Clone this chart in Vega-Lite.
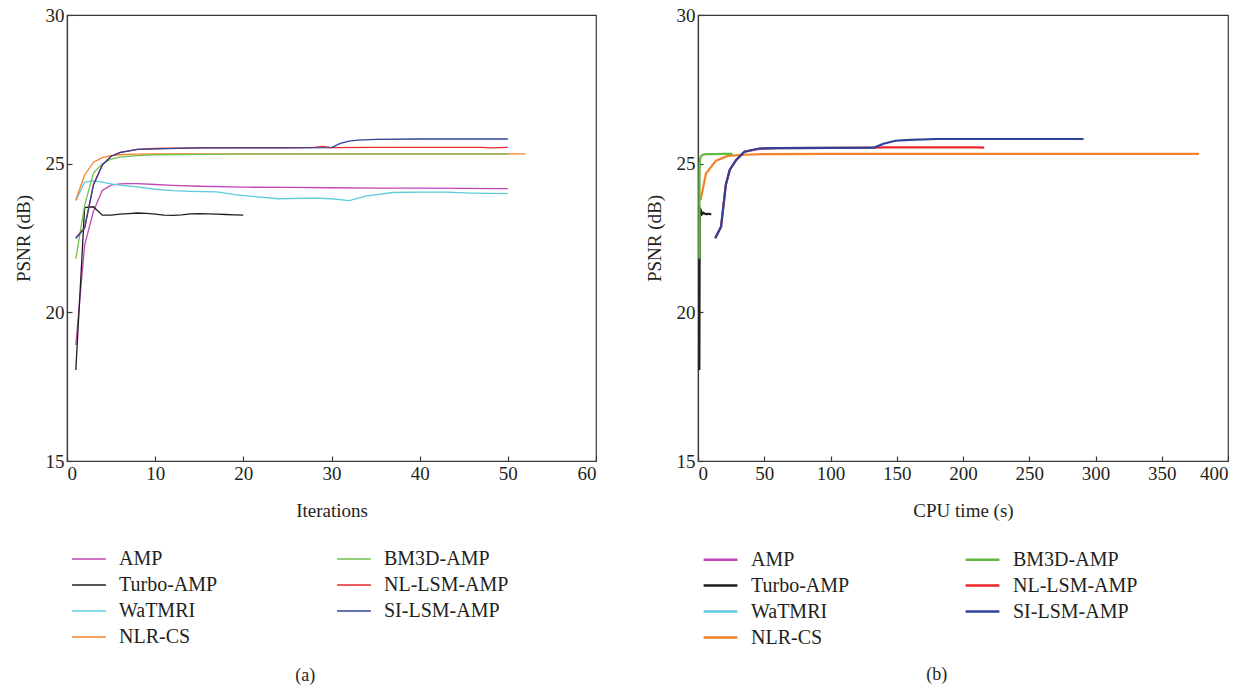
{
  "$schema": "https://vega.github.io/schema/vega-lite/v6.json",
  "background": "white",
  "padding": {"left": 13, "top": 5, "right": 5, "bottom": 5},
  "spacing": 102,
  "bounds": "flush",
  "config": {
    "font": "Liberation Serif",
    "view": {"stroke": "#3a3a3a", "strokeWidth": 1.2},
    "axis": {
      "grid": false,
      "labelFont": "Liberation Serif",
      "titleFont": "Liberation Serif",
      "labelFontSize": 19,
      "titleFontSize": 19,
      "titleFontWeight": "normal",
      "labelColor": "#231f20",
      "titleColor": "#231f20",
      "domainColor": "#3a3a3a",
      "domainWidth": 1.2,
      "tickColor": "#3a3a3a",
      "tickWidth": 1.2,
      "tickSize": -5,
      "labelPadding": 8
    },
    "legend": {
      "labelFont": "Liberation Serif",
      "labelFontSize": 20,
      "labelColor": "#231f20",
      "symbolType": "M-1.3,0L1.3,0",
      "symbolSize": 676,
      "labelOffset": 16,
      "columns": 2,
      "columnPadding": 116,
      "rowPadding": 2,
      "padding": 0,
      "title": null,
      "orient": "none"
    },
    "title": {"font": "Liberation Serif", "fontSize": 18, "fontWeight": "normal", "color": "#231f20"}
  },
  "datasets": {
    "iter": [
      {"method": "AMP", "x": 1, "y": 18.9}, {"method": "AMP", "x": 2, "y": 22.26}, {"method": "AMP", "x": 3, "y": 23.4}, {"method": "AMP", "x": 4, "y": 24.1}, {"method": "AMP", "x": 5, "y": 24.28}, {"method": "AMP", "x": 6, "y": 24.32}, {"method": "AMP", "x": 7, "y": 24.33}, {"method": "AMP", "x": 8, "y": 24.33}, {"method": "AMP", "x": 10, "y": 24.3}, {"method": "AMP", "x": 12, "y": 24.27}, {"method": "AMP", "x": 15, "y": 24.24}, {"method": "AMP", "x": 20, "y": 24.21}, {"method": "AMP", "x": 25, "y": 24.2}, {"method": "AMP", "x": 30, "y": 24.19}, {"method": "AMP", "x": 35, "y": 24.18}, {"method": "AMP", "x": 40, "y": 24.18}, {"method": "AMP", "x": 45, "y": 24.17}, {"method": "AMP", "x": 48, "y": 24.16}, {"method": "AMP", "x": 50, "y": 24.16},
      {"method": "Turbo-AMP", "x": 1, "y": 18.06}, {"method": "Turbo-AMP", "x": 2, "y": 23.52}, {"method": "Turbo-AMP", "x": 3, "y": 23.55}, {"method": "Turbo-AMP", "x": 4, "y": 23.27}, {"method": "Turbo-AMP", "x": 5, "y": 23.27}, {"method": "Turbo-AMP", "x": 6, "y": 23.3}, {"method": "Turbo-AMP", "x": 7, "y": 23.32}, {"method": "Turbo-AMP", "x": 8, "y": 23.34}, {"method": "Turbo-AMP", "x": 9, "y": 23.33}, {"method": "Turbo-AMP", "x": 10, "y": 23.3}, {"method": "Turbo-AMP", "x": 11, "y": 23.27}, {"method": "Turbo-AMP", "x": 12, "y": 23.26}, {"method": "Turbo-AMP", "x": 13, "y": 23.28}, {"method": "Turbo-AMP", "x": 14, "y": 23.31}, {"method": "Turbo-AMP", "x": 15, "y": 23.32}, {"method": "Turbo-AMP", "x": 16, "y": 23.31}, {"method": "Turbo-AMP", "x": 17, "y": 23.3}, {"method": "Turbo-AMP", "x": 18, "y": 23.29}, {"method": "Turbo-AMP", "x": 19, "y": 23.28}, {"method": "Turbo-AMP", "x": 20, "y": 23.27},
      {"method": "WaTMRI", "x": 1, "y": 23.75}, {"method": "WaTMRI", "x": 2, "y": 24.38}, {"method": "WaTMRI", "x": 3, "y": 24.42}, {"method": "WaTMRI", "x": 4, "y": 24.38}, {"method": "WaTMRI", "x": 5, "y": 24.32}, {"method": "WaTMRI", "x": 6, "y": 24.28}, {"method": "WaTMRI", "x": 8, "y": 24.22}, {"method": "WaTMRI", "x": 10, "y": 24.14}, {"method": "WaTMRI", "x": 12, "y": 24.09}, {"method": "WaTMRI", "x": 14, "y": 24.07}, {"method": "WaTMRI", "x": 17, "y": 24.05}, {"method": "WaTMRI", "x": 19, "y": 23.96}, {"method": "WaTMRI", "x": 21, "y": 23.9}, {"method": "WaTMRI", "x": 24, "y": 23.82}, {"method": "WaTMRI", "x": 28, "y": 23.84}, {"method": "WaTMRI", "x": 30, "y": 23.82}, {"method": "WaTMRI", "x": 32, "y": 23.76}, {"method": "WaTMRI", "x": 34, "y": 23.92}, {"method": "WaTMRI", "x": 37, "y": 24.03}, {"method": "WaTMRI", "x": 40, "y": 24.04}, {"method": "WaTMRI", "x": 43, "y": 24.04}, {"method": "WaTMRI", "x": 46, "y": 24.01}, {"method": "WaTMRI", "x": 50, "y": 23.99},
      {"method": "NLR-CS", "x": 1, "y": 23.78}, {"method": "NLR-CS", "x": 2, "y": 24.62}, {"method": "NLR-CS", "x": 3, "y": 25.05}, {"method": "NLR-CS", "x": 4, "y": 25.2}, {"method": "NLR-CS", "x": 5, "y": 25.27}, {"method": "NLR-CS", "x": 6, "y": 25.3}, {"method": "NLR-CS", "x": 8, "y": 25.32}, {"method": "NLR-CS", "x": 10, "y": 25.33}, {"method": "NLR-CS", "x": 20, "y": 25.33}, {"method": "NLR-CS", "x": 30, "y": 25.33}, {"method": "NLR-CS", "x": 40, "y": 25.33}, {"method": "NLR-CS", "x": 52, "y": 25.33},
      {"method": "BM3D-AMP", "x": 1, "y": 21.8}, {"method": "BM3D-AMP", "x": 2, "y": 23.6}, {"method": "BM3D-AMP", "x": 3, "y": 24.68}, {"method": "BM3D-AMP", "x": 4, "y": 25.0}, {"method": "BM3D-AMP", "x": 5, "y": 25.15}, {"method": "BM3D-AMP", "x": 6, "y": 25.22}, {"method": "BM3D-AMP", "x": 8, "y": 25.27}, {"method": "BM3D-AMP", "x": 10, "y": 25.3}, {"method": "BM3D-AMP", "x": 15, "y": 25.31}, {"method": "BM3D-AMP", "x": 20, "y": 25.32}, {"method": "BM3D-AMP", "x": 30, "y": 25.32}, {"method": "BM3D-AMP", "x": 40, "y": 25.32}, {"method": "BM3D-AMP", "x": 50, "y": 25.32},
      {"method": "NL-LSM-AMP", "x": 1, "y": 22.5}, {"method": "NL-LSM-AMP", "x": 2, "y": 22.85}, {"method": "NL-LSM-AMP", "x": 3, "y": 24.3}, {"method": "NL-LSM-AMP", "x": 4, "y": 24.95}, {"method": "NL-LSM-AMP", "x": 5, "y": 25.25}, {"method": "NL-LSM-AMP", "x": 6, "y": 25.38}, {"method": "NL-LSM-AMP", "x": 8, "y": 25.48}, {"method": "NL-LSM-AMP", "x": 10, "y": 25.51}, {"method": "NL-LSM-AMP", "x": 15, "y": 25.53}, {"method": "NL-LSM-AMP", "x": 20, "y": 25.54}, {"method": "NL-LSM-AMP", "x": 25, "y": 25.54}, {"method": "NL-LSM-AMP", "x": 28, "y": 25.55}, {"method": "NL-LSM-AMP", "x": 29, "y": 25.58}, {"method": "NL-LSM-AMP", "x": 30, "y": 25.54}, {"method": "NL-LSM-AMP", "x": 35, "y": 25.55}, {"method": "NL-LSM-AMP", "x": 40, "y": 25.55}, {"method": "NL-LSM-AMP", "x": 47, "y": 25.55}, {"method": "NL-LSM-AMP", "x": 48, "y": 25.53}, {"method": "NL-LSM-AMP", "x": 50, "y": 25.55},
      {"method": "SI-LSM-AMP", "x": 1, "y": 22.49}, {"method": "SI-LSM-AMP", "x": 2, "y": 22.83}, {"method": "SI-LSM-AMP", "x": 3, "y": 24.28}, {"method": "SI-LSM-AMP", "x": 4, "y": 24.95}, {"method": "SI-LSM-AMP", "x": 5, "y": 25.25}, {"method": "SI-LSM-AMP", "x": 6, "y": 25.37}, {"method": "SI-LSM-AMP", "x": 8, "y": 25.48}, {"method": "SI-LSM-AMP", "x": 10, "y": 25.5}, {"method": "SI-LSM-AMP", "x": 15, "y": 25.53}, {"method": "SI-LSM-AMP", "x": 20, "y": 25.53}, {"method": "SI-LSM-AMP", "x": 25, "y": 25.53}, {"method": "SI-LSM-AMP", "x": 30, "y": 25.54}, {"method": "SI-LSM-AMP", "x": 31, "y": 25.68}, {"method": "SI-LSM-AMP", "x": 32, "y": 25.76}, {"method": "SI-LSM-AMP", "x": 33, "y": 25.79}, {"method": "SI-LSM-AMP", "x": 35, "y": 25.82}, {"method": "SI-LSM-AMP", "x": 40, "y": 25.83}, {"method": "SI-LSM-AMP", "x": 45, "y": 25.83}, {"method": "SI-LSM-AMP", "x": 50, "y": 25.83}
    ],
    "time": [
      {"method": "Turbo-AMP", "x": 1.0, "y": 18.06}, {"method": "Turbo-AMP", "x": 1.3, "y": 23.5}, {"method": "Turbo-AMP", "x": 2, "y": 23.45}, {"method": "Turbo-AMP", "x": 3, "y": 23.3}, {"method": "Turbo-AMP", "x": 4, "y": 23.35}, {"method": "Turbo-AMP", "x": 5, "y": 23.32}, {"method": "Turbo-AMP", "x": 6, "y": 23.3}, {"method": "Turbo-AMP", "x": 7, "y": 23.3}, {"method": "Turbo-AMP", "x": 8, "y": 23.32}, {"method": "Turbo-AMP", "x": 9, "y": 23.3}, {"method": "Turbo-AMP", "x": 10, "y": 23.3},
      {"method": "NLR-CS", "x": 2, "y": 23.78}, {"method": "NLR-CS", "x": 6, "y": 24.67}, {"method": "NLR-CS", "x": 13.6, "y": 25.1}, {"method": "NLR-CS", "x": 22.4, "y": 25.26}, {"method": "NLR-CS", "x": 35, "y": 25.3}, {"method": "NLR-CS", "x": 50, "y": 25.32}, {"method": "NLR-CS", "x": 100, "y": 25.33}, {"method": "NLR-CS", "x": 200, "y": 25.33}, {"method": "NLR-CS", "x": 300, "y": 25.33}, {"method": "NLR-CS", "x": 378, "y": 25.33},
      {"method": "BM3D-AMP", "x": 1.0, "y": 21.8}, {"method": "BM3D-AMP", "x": 1.1, "y": 23.6}, {"method": "BM3D-AMP", "x": 1.2, "y": 24.68}, {"method": "BM3D-AMP", "x": 1.3, "y": 25.0}, {"method": "BM3D-AMP", "x": 1.6, "y": 25.15}, {"method": "BM3D-AMP", "x": 2.2, "y": 25.24}, {"method": "BM3D-AMP", "x": 3.5, "y": 25.3}, {"method": "BM3D-AMP", "x": 6, "y": 25.32}, {"method": "BM3D-AMP", "x": 12, "y": 25.32}, {"method": "BM3D-AMP", "x": 20, "y": 25.33}, {"method": "BM3D-AMP", "x": 26, "y": 25.33},
      {"method": "NL-LSM-AMP", "x": 13, "y": 22.5}, {"method": "NL-LSM-AMP", "x": 17.4, "y": 22.88}, {"method": "NL-LSM-AMP", "x": 21, "y": 24.3}, {"method": "NL-LSM-AMP", "x": 24, "y": 24.8}, {"method": "NL-LSM-AMP", "x": 28.7, "y": 25.12}, {"method": "NL-LSM-AMP", "x": 35, "y": 25.4}, {"method": "NL-LSM-AMP", "x": 46, "y": 25.5}, {"method": "NL-LSM-AMP", "x": 60, "y": 25.52}, {"method": "NL-LSM-AMP", "x": 100, "y": 25.53}, {"method": "NL-LSM-AMP", "x": 130, "y": 25.54}, {"method": "NL-LSM-AMP", "x": 140, "y": 25.55}, {"method": "NL-LSM-AMP", "x": 210, "y": 25.55}, {"method": "NL-LSM-AMP", "x": 216, "y": 25.54},
      {"method": "SI-LSM-AMP", "x": 13, "y": 22.49}, {"method": "SI-LSM-AMP", "x": 17.4, "y": 22.88}, {"method": "SI-LSM-AMP", "x": 21, "y": 24.28}, {"method": "SI-LSM-AMP", "x": 24, "y": 24.8}, {"method": "SI-LSM-AMP", "x": 28.7, "y": 25.12}, {"method": "SI-LSM-AMP", "x": 35, "y": 25.4}, {"method": "SI-LSM-AMP", "x": 46, "y": 25.51}, {"method": "SI-LSM-AMP", "x": 60, "y": 25.52}, {"method": "SI-LSM-AMP", "x": 100, "y": 25.53}, {"method": "SI-LSM-AMP", "x": 133, "y": 25.54}, {"method": "SI-LSM-AMP", "x": 140, "y": 25.67}, {"method": "SI-LSM-AMP", "x": 149, "y": 25.77}, {"method": "SI-LSM-AMP", "x": 160, "y": 25.8}, {"method": "SI-LSM-AMP", "x": 180, "y": 25.83}, {"method": "SI-LSM-AMP", "x": 291, "y": 25.83}
    ]
  },
  "hconcat": [
    {
      "width": 529,
      "height": 446,
      "title": {"text": "(a)", "orient": "bottom", "frame": "bounds", "offset": 20},
      "data": {"name": "iter"},
      "mark": {"type": "line", "strokeWidth": 1.3, "clip": true},
      "encoding": {
        "x": {"field": "x", "type": "quantitative", "title": "Iterations", "scale": {"domain": [0, 60]}, "axis": {"values": [0, 10, 20, 30, 40, 50, 60], "titlePadding": 18}},
        "y": {"field": "y", "type": "quantitative", "title": "PSNR (dB)", "scale": {"domain": [15, 30]}, "axis": {"values": [15, 20, 25, 30], "titlePadding": 12}},
        "color": {
          "field": "method", "type": "nominal", "sort": null,
          "scale": {
            "domain": ["AMP", "Turbo-AMP", "WaTMRI", "NLR-CS", "BM3D-AMP", "NL-LSM-AMP", "SI-LSM-AMP"],
            "range": ["#c146b8", "#1e1e1e", "#5ccbdb", "#f5822a", "#72c050", "#e8262b", "#2e4399"]
          },
          "legend": {"legendX": 8, "legendY": 530, "symbolStrokeWidth": 1.5}
        }
      }
    },
    {
      "width": 530,
      "height": 446,
      "title": {"text": "(b)", "orient": "bottom", "frame": "bounds", "offset": 18},
      "data": {"name": "time"},
      "mark": {"type": "line", "strokeWidth": 2.2, "clip": true},
      "encoding": {
        "x": {"field": "x", "type": "quantitative", "title": "CPU time (s)", "scale": {"domain": [0, 400]}, "axis": {"values": [0, 50, 100, 150, 200, 250, 300, 350, 400], "titlePadding": 18}},
        "y": {"field": "y", "type": "quantitative", "title": "PSNR (dB)", "scale": {"domain": [15, 30]}, "axis": {"values": [15, 20, 25, 30], "titlePadding": 12}},
        "color": {
          "field": "method", "type": "nominal", "sort": null,
          "scale": {
            "domain": ["AMP", "Turbo-AMP", "WaTMRI", "NLR-CS", "BM3D-AMP", "NL-LSM-AMP", "SI-LSM-AMP"],
            "range": ["#c146b8", "#1e1e1e", "#5ccbdb", "#f5822a", "#62b840", "#e8262b", "#2e4399"]
          },
          "legend": {"legendX": 8, "legendY": 530, "symbolStrokeWidth": 2.5, "columnPadding": 110, "rowPadding": 1}
        }
      }
    }
  ],
  "resolve": {"scale": {"color": "independent"}, "legend": {"color": "independent"}}
}
